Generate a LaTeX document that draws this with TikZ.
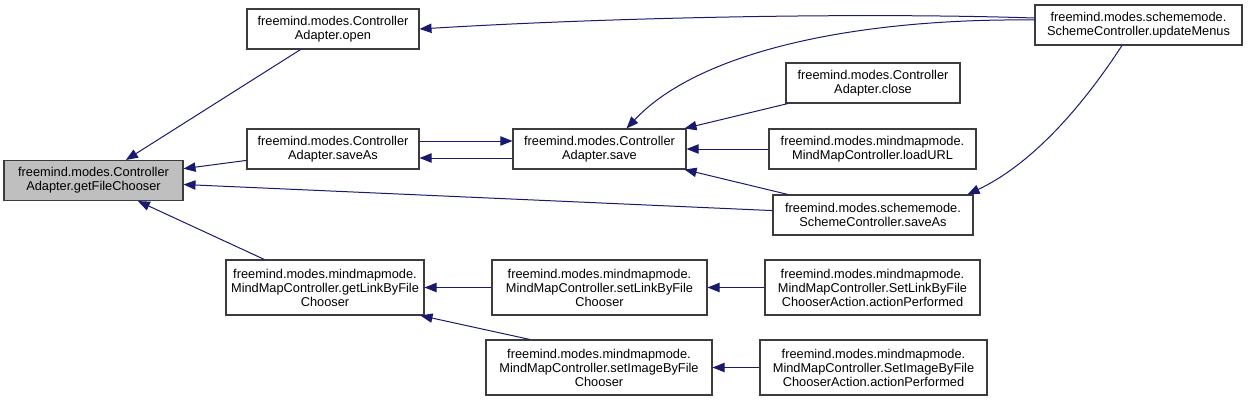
\documentclass[tikz,border=0pt]{standalone}
\usepackage{fontspec}
\setmainfont{Liberation Sans}
\usetikzlibrary{
  arrows.meta,
  positioning
}
\definecolor{edgeblue}{RGB}{25,25,112}
\definecolor{rootgray}{RGB}{191,191,191}
\definecolor{boxline}{RGB}{60,60,60}

\begin{document}
\begin{tikzpicture}[
  x=0.75pt, y=-0.75pt,
  font=\fontsize{9.6}{10.5}\selectfont,
  box/.style={draw=boxline, line width=0.8pt, fill=white, align=center, inner sep=0pt, minimum height=30pt},
  tall/.style={minimum height=41.25pt},
  call/.style={draw=edgeblue, line width=0.75pt, -{Triangle[length=9pt,width=7pt]}}
]
\useasboundingbox (0,0) rectangle (1248,401);

% functions
\node[box, fill=rootgray, minimum width=134.25pt] (getfc) at (93.5,180.5) {freemind.modes.Controller\\Adapter.getFileChooser};
\node[box, minimum width=129pt] (open) at (333,29) {freemind.modes.Controller\\Adapter.open};
\node[box, minimum width=129pt] (saveas) at (333,149) {freemind.modes.Controller\\Adapter.saveAs};
\node[box, minimum width=129.75pt] (save) at (599.5,149) {freemind.modes.Controller\\Adapter.save};
\node[box, minimum width=155.25pt] (menus) at (1138.5,25) {freemind.modes.schememode.\\SchemeController.updateMenus};
\node[box, minimum width=130.5pt] (close) at (873,83) {freemind.modes.Controller\\Adapter.close};
\node[box, minimum width=155.25pt] (loadurl) at (872.5,149) {freemind.modes.mindmapmode.\\MindMapController.loadURL};
\node[box, minimum width=150pt] (schsaveas) at (873,215) {freemind.modes.schememode.\\SchemeController.saveAs};
\node[box, tall, minimum width=148.5pt] (getlink) at (325,287.5) {freemind.modes.mindmapmode.\\MindMapController.getLinkByFile\\Chooser};
\node[box, tall, minimum width=161.25pt] (setlink) at (599.5,287.5) {freemind.modes.mindmapmode.\\MindMapController.setLinkByFile\\Chooser};
\node[box, tall, minimum width=161.25pt] (linkaction) at (872.5,287.5) {freemind.modes.mindmapmode.\\MindMapController.SetLinkByFile\\ChooserAction.actionPerformed};
\node[box, tall, minimum width=169.5pt] (setimg) at (599,367.5) {freemind.modes.mindmapmode.\\MindMapController.setImageByFile\\Chooser};
\node[box, tall, minimum width=170.25pt] (imgaction) at (873.5,367.5) {freemind.modes.mindmapmode.\\MindMapController.SetImageByFile\\ChooserAction.actionPerformed};

% calls
\draw[call] (open) -- (getfc);
\draw[call] (saveas) -- (getfc);
\draw[call] (getlink) -- (getfc);
\draw[call] (schsaveas) -- (getfc);
\draw[call] ([yshift=5.25pt]menus.west) .. controls (850,12) and (600,18) .. (open.east);
\draw[call] ([yshift=3.75pt]menus.west) .. controls (860,18) and (700,50) .. ([xshift=-45pt]save.north east);
\draw[call] ([xshift=-12.4pt]menus.south) .. controls (1080,110) and (1030,165) .. ([xshift=-4.5pt]schsaveas.north east);
\draw[call] ([yshift=6pt]saveas.east) -- ([yshift=6pt]save.west);
\draw[call] ([yshift=-6.75pt]save.west) -- ([yshift=-6.75pt]saveas.east);
\draw[call] (close) -- (save);
\draw[call] (loadurl) -- (save);
\draw[call] (schsaveas) -- (save);
\draw[call] (setlink) -- (getlink);
\draw[call] ([xshift=-51.75pt]setimg.north) -- ([xshift=-3pt]getlink.south east);
\draw[call] (linkaction) -- (setlink);
\draw[call] (imgaction) -- (setimg);
\end{tikzpicture}
\end{document}
